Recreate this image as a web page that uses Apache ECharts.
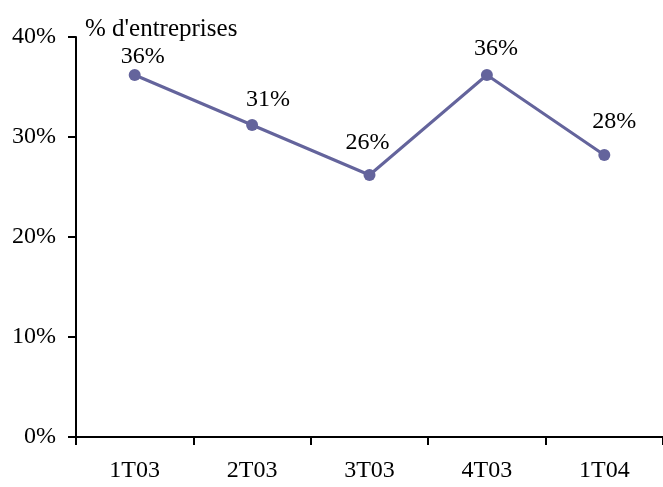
<!DOCTYPE html>
<html>
<head>
<meta charset="utf-8">
<script src="https://cdn.jsdelivr.net/npm/echarts@6/dist/echarts.min.js"></script>
<style>
html, body { margin: 0; padding: 0; background: #fff; }
#container { width: 663px; height: 487px; }
</style>
</head>
<body>
<div id="container"></div>
<script>
var dom = document.getElementById("container");
var myChart = echarts.init(dom);

var categories = ['1T03', '2T03', '3T03', '4T03', '1T04'];
var values = [36.2, 31.2, 26.2, 36.2, 28.2];
var yTicks = ['0%', '10%', '20%', '30%', '40%'];
// label nudges, Excel placed them by hand
var labelShift = [[8, 4], [16, -3], [-2, -10], [9, -4], [10, -11]];

var font = 'Liberation Serif';

var option = {
    animation: false,
    title: {
        text: "% d'entreprises",
        left: 80,
        top: 12,
        textStyle: { fontFamily: font, fontSize: 25, fontWeight: 'normal', color: '#000' }
    },
    grid: { left: 76, top: 37, width: 588, bottom: 50 },
    xAxis: {
        type: 'category',
        data: categories,
        boundaryGap: true,
        axisLine: { lineStyle: { color: '#000', width: 2 } },
        axisTick: { show: true, length: 8, inside: false, lineStyle: { color: '#000', width: 2 } },
        axisLabel: { fontFamily: font, fontSize: 24, color: '#000', margin: 22 }
    },
    yAxis: {
        type: 'value',
        min: 0,
        max: 40,
        interval: 10,
        splitLine: { show: false },
        axisLine: { show: true, lineStyle: { color: '#000', width: 2 } },
        axisTick: { show: true, length: 8, lineStyle: { color: '#000', width: 2 } },
        axisLabel: {
            fontFamily: font, fontSize: 24, color: '#000', margin: 20,
            formatter: function (v) { return yTicks[v / 10]; }
        }
    },
    series: [{
        type: 'line',
        data: values.map(function (v, i) {
            return { value: v, label: { offset: labelShift[i] } };
        }),
        symbol: 'circle',
        symbolSize: 12,
        lineStyle: { color: '#64649c', width: 3 },
        itemStyle: { color: '#64649c' },
        label: {
            show: true,
            position: 'top',
            distance: 4,
            fontFamily: font,
            fontSize: 24,
            color: '#000',
            formatter: function (p) { return Math.round(p.value) + '%'; }
        }
    }]
};

myChart.setOption(option, true);
window.onresize = function () {
    myChart.resize();
};
</script>
</body>
</html>
